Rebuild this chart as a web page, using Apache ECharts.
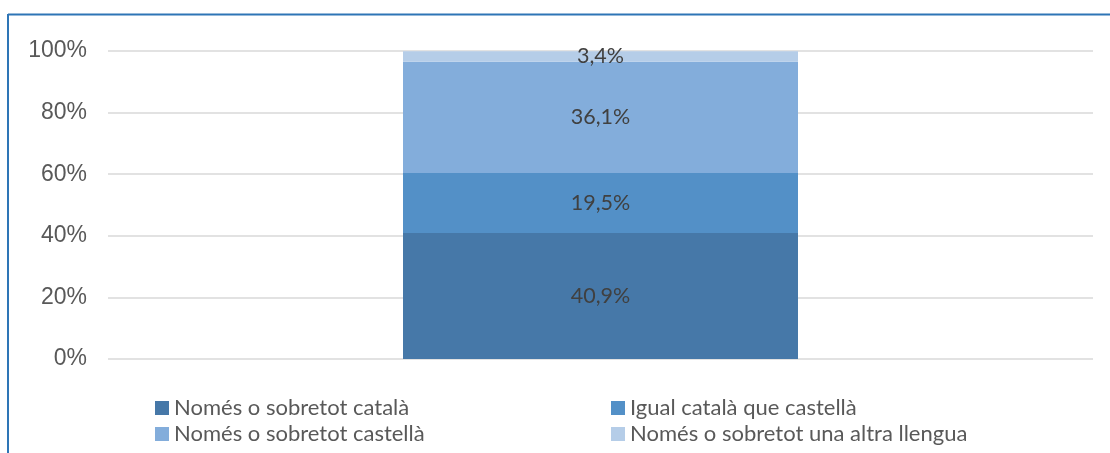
<!DOCTYPE html>
<html>
<head>
<meta charset="utf-8">
<script src="https://cdn.jsdelivr.net/npm/echarts@6/dist/echarts.min.js"></script>
<style>
html,body{margin:0;padding:0;background:#fff;}
#chart{width:1110px;height:453px;}
</style>
</head>
<body>
<div id="chart"></div>
<script>
const categories = [''];
const seriesNames = ['Només o sobretot català', 'Igual català que castellà', 'Només o sobretot castellà', 'Només o sobretot una altra llengua'];
const catalaValues = [40.9];
const igualValues = [19.5];
const castellaValues = [36.1];
const altraValues = [3.4];
const yTicks = [0, 20, 40, 60, 80, 100];

const colors = ['#4678a8', '#5390c7', '#83addb', '#b5cde8'];
const seriesData = [catalaValues, igualValues, castellaValues, altraValues];

const labelFont = 'Lato, "Open Sans", sans-serif';

const chart = echarts.init(document.getElementById('chart'));
chart.setOption({
  animation: false,
  backgroundColor: '#fff',
  grid: { left: 108, right: 17, top: 51, bottom: 94 },
  xAxis: {
    type: 'category',
    data: categories,
    axisLine: { show: false },
    axisTick: { show: false },
    axisLabel: { show: false },
    splitLine: { show: false }
  },
  yAxis: {
    type: 'value',
    min: yTicks[0],
    max: yTicks[yTicks.length - 1],
    interval: 20,
    axisLine: { show: false },
    axisTick: { show: false },
    axisLabel: {
      formatter: '{value}%',
      color: '#595959',
      fontFamily: '"Liberation Sans", Arial, sans-serif',
      fontSize: 23,
      margin: 21
    },
    splitLine: { lineStyle: { color: '#d9d9d9', width: 1.5 } }
  },
  legend: [0, 1, 2, 3].map(i => ({
    data: [seriesNames[i]],
    left: i % 2 === 0 ? 150 : 606,
    top: i < 2 ? 392 : 418,
    padding: 5,
    itemWidth: 14,
    itemHeight: 14,
    icon: 'rect',
    textStyle: { color: '#595959', fontFamily: labelFont, fontSize: 22 }
  })),
  series: seriesNames.map((name, i) => ({
    name: name,
    type: 'bar',
    stack: 'total',
    barWidth: '40.1%',
    itemStyle: { color: colors[i] },
    label: {
      show: true,
      position: 'inside',
      formatter: p => p.value.toFixed(1).replace('.', ',') + '%',
      color: '#404040',
      fontFamily: labelFont,
      fontSize: 21.5
    },
    data: seriesData[i]
  })),
  graphic: [
    { type: 'line', shape: { x1: 8, y1: 14.5, x2: 1110, y2: 14.5 }, style: { stroke: '#2e75b6', lineWidth: 2 } },
    { type: 'line', shape: { x1: 8, y1: 14, x2: 8, y2: 453 }, style: { stroke: '#2e75b6', lineWidth: 2 } }
  ]
});
</script>
</body>
</html>
